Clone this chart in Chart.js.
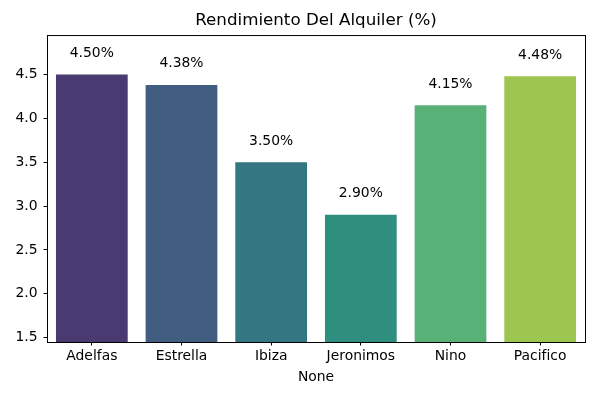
<!DOCTYPE html>
<html lang="es">
<head>
<meta charset="utf-8">
<title>Rendimiento Del Alquiler (%)</title>
<script src="https://cdn.jsdelivr.net/npm/chart.js@4.4.1/dist/chart.umd.min.js"></script>
<style>
  html, body { margin: 0; padding: 0; background: #fff; }
  #wrap { width: 600px; height: 400px; }
</style>
</head>
<body>
<div id="wrap"><canvas id="chart" width="600" height="400"></canvas></div>
<script>
// Datos del gráfico
const barrios = ['Adelfas', 'Estrella', 'Ibiza', 'Jeronimos', 'Nino', 'Pacifico'];
const rendimiento = [4.50, 4.38, 3.50, 2.90, 4.15, 4.48];
const colores = ['#4a3a72', '#415e80', '#347681', '#2e8f7e', '#58b176', '#9cc650'];
const yTicks = [1.5, 2.0, 2.5, 3.0, 3.5, 4.0, 4.5];
const yMin = 1.45;
const yMax = 4.95;
const titulo = 'Rendimiento Del Alquiler (%)';
const ejeX = 'None';

Chart.defaults.font.family = "'DejaVu Sans', sans-serif";
Chart.defaults.color = '#000';

// Etiquetas encima de cada barra + marco completo (como matplotlib)
const etiquetasYMarco = {
    id: 'etiquetasYMarco',
    afterDatasetsDraw(chart) {
        const { ctx, chartArea, scales: { x, y } } = chart;
        ctx.save();
        ctx.font = "13.9px 'DejaVu Sans'";
        ctx.fillStyle = '#000';
        ctx.textAlign = 'center';
        ctx.textBaseline = 'alphabetic';
        rendimiento.forEach((v, i) => {
            ctx.fillText(v.toFixed(2) + '%', x.getPixelForValue(i), y.getPixelForValue(v + 0.2));
        });

        ctx.strokeStyle = '#000';
        ctx.lineWidth = 1;
        ctx.strokeRect(chartArea.left + 0.5, chartArea.top + 0.5, chartArea.width, chartArea.height);
        ctx.restore();
    }
};

new Chart(document.getElementById('chart').getContext('2d'), {
    type: 'bar',
    data: {
        labels: barrios,
        datasets: [{
            data: rendimiento,
            backgroundColor: colores,
            borderWidth: 0,
            categoryPercentage: 1.0,
            barPercentage: 0.8
        }]
    },
    options: {
        responsive: false,
        animation: false,
        layout: { padding: { left: 0, right: 15, top: 0, bottom: 0 } },
        plugins: {
            legend: { display: false },
            tooltip: { enabled: false },
            title: {
                display: true,
                text: titulo,
                fullSize: false,
                color: '#000',
                font: { size: 16.7, weight: 'normal' },
                padding: { top: 11, bottom: 4 }
            }
        },
        scales: {
            x: {
                grid: { drawOnChartArea: false, offset: false, color: '#000', tickLength: 3.5 },
                border: { color: '#000' },
                ticks: { color: '#000', font: { size: 13.9 }, padding: 3, maxRotation: 0, autoSkip: false },
                title: { display: true, text: ejeX, color: '#000', font: { size: 13.9 }, padding: { top: 0, bottom: 14 } },
                afterFit(scale) { scale.height = 58; }
            },
            y: {
                min: yMin,
                max: yMax,
                afterBuildTicks(scale) { scale.ticks = yTicks.map(v => ({ value: v })); },
                grid: { drawOnChartArea: false, color: '#000', tickLength: 3.5 },
                border: { color: '#000' },
                ticks: { color: '#000', font: { size: 13.9 }, padding: 6, callback: v => Number(v).toFixed(1) },
                afterFit(scale) { scale.width = 47; }
            }
        }
    },
    plugins: [etiquetasYMarco]
});
</script>
</body>
</html>
